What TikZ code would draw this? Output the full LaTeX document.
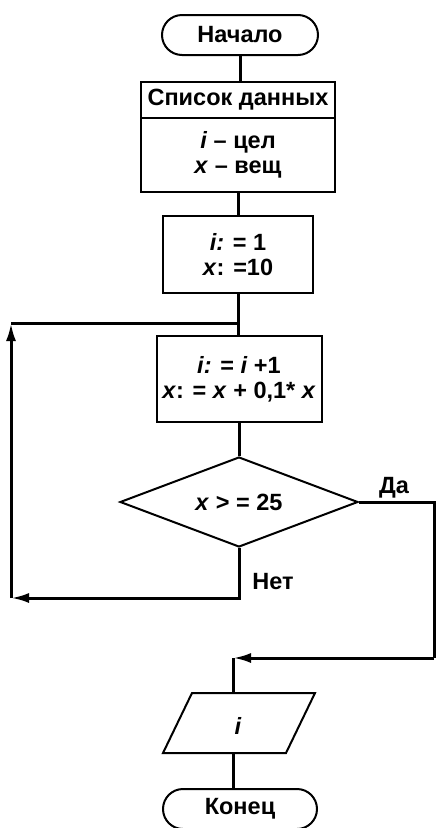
\documentclass[tikz,border=0pt]{standalone}
\usepackage{fontspec}
\setmainfont{Liberation Sans}
\usetikzlibrary{arrows.meta,shapes.geometric}
\begin{document}
\begin{tikzpicture}[x=1pt,y=-1pt,
  every node/.style={font=\fontsize{23.5}{25}\selectfont\bfseries},
  box/.style={draw, line width=2pt, inner sep=0pt, align=center},
  term/.style={box, rounded corners=20pt, minimum width=156pt, minimum height=40pt},
  conn/.style={line width=3pt, line join=miter},
  arr/.style={conn, -{Latex[length=18pt,width=10pt]}},
  lbl/.style={inner sep=0pt}
]
\useasboundingbox (0,0) rectangle (436,828);

\node[term] (start) at (240,35) {Начало};
\node[box, minimum width=194pt, minimum height=36pt] (dhead) at (238,100) {Список данных};
\node[box, minimum width=194pt, minimum height=74pt] (dbody) at (238,155)
  {\textit{i} – цел\\ \textit{x} – вещ};
\node[box, minimum width=150pt, minimum height=77pt] (init) at (238,254.5)
  {\textit{i:} = 1\\ \textit{x}: =10};
\node[box, minimum width=165pt, minimum height=86pt] (step) at (239,379)
  {\textit{i:} = \textit{i} +1\\ \textit{x}: = \textit{x} + 0,1* \textit{x}};
\node[draw, line width=2pt, diamond, shape aspect=2.64, inner sep=0pt, minimum width=238pt, minimum height=90pt] (dec) at (239,502)
  {\textit{x} > = 25};
\coordinate (pt) at (233,693);
\coordinate (pb) at (233,753);
\draw[line width=2pt, line join=miter] (192,693) -- (315,693) -- (286,753) -- (163,753) -- cycle;
\node[lbl] (out) at (238,726) {\textit{i}};
\node[term, minimum width=154pt] (end) at (240,809) {Конец};

\coordinate (m) at (239,323);
\coordinate (nb) at (239,598);
\coordinate (bl) at (11,598);
\coordinate (tl) at (11,323);
\coordinate (dr) at (434,502);
\coordinate (dd) at (434,658);
\coordinate (pa) at (233,658);

\draw[conn] (start.south) -- (start.south |- dhead.north);
\draw[conn] (dbody.south) -- (dbody.south |- init.north);
\draw[conn] (init.south) -- (init.south |- step.north);
\draw[conn] (step.south) -- (step.south |- dec.north);
\draw[arr] (dec.south) -- (nb) -- (bl);
\draw[arr] (bl) -- (tl);
\draw[conn] (tl) -- (m);
\draw[conn] (dec.east) -- (dr) -- (dd);
\draw[arr] (dd) -- (pa);
\draw[conn] (pa) -- (pt);
\draw[conn] (pb) -- (pb |- end.north);

\node[lbl] (yes) at (394,488) {Да};
\node[lbl] (no) at (273,582) {Нет};
\end{tikzpicture}
\end{document}
